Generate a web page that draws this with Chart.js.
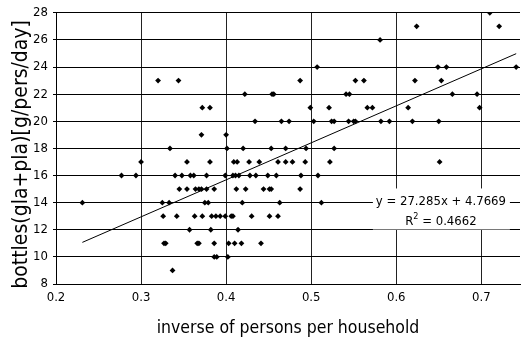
<!DOCTYPE html>
<html>
<head>
<meta charset="utf-8">
<script src="https://cdn.jsdelivr.net/npm/chart.js@4.4.1/dist/chart.umd.min.js"></script>
<style>
    html, body { margin: 0; padding: 0; background: #fff; }
    #wrap { width: 524px; height: 339px; position: relative; }
</style>
</head>
<body>
<div id="wrap"><canvas id="scatter" width="524" height="339"></canvas></div>
<script>
(function () {
    'use strict';

    // inverse of persons per household (x), one entry per household group
    var inversePersons = [
        0.710,
        0.624, 0.721,
        0.581,
        0.507, 0.649, 0.659, 0.741,
        0.320, 0.344, 0.487, 0.552, 0.562, 0.622, 0.653,
        0.422, 0.454, 0.456, 0.541, 0.545, 0.666, 0.695,
        0.372, 0.381, 0.499, 0.521, 0.566, 0.572, 0.614, 0.698,
        0.434, 0.465, 0.474, 0.503, 0.524, 0.527, 0.544, 0.550, 0.552, 0.582, 0.592, 0.619, 0.650,
        0.371, 0.400,
        0.334, 0.401, 0.420, 0.453, 0.470, 0.494, 0.527,
        0.300, 0.354, 0.381, 0.409, 0.413, 0.427, 0.439, 0.461, 0.470, 0.478, 0.493, 0.522, 0.651,
        0.277, 0.294, 0.340, 0.348, 0.358, 0.362, 0.377, 0.399, 0.408, 0.411, 0.415, 0.428, 0.435, 0.449, 0.459, 0.488, 0.508,
        0.345, 0.354, 0.364, 0.368, 0.371, 0.377, 0.386, 0.412, 0.423, 0.444, 0.451, 0.453, 0.487,
        0.231, 0.325, 0.333, 0.375, 0.379, 0.419, 0.463, 0.512,
        0.326, 0.342, 0.363, 0.372, 0.383, 0.388, 0.393, 0.399, 0.406, 0.408, 0.430, 0.451, 0.461,
        0.357, 0.382, 0.414,
        0.327, 0.329, 0.366, 0.368, 0.386, 0.403, 0.410, 0.418, 0.441,
        0.386, 0.389, 0.402,
        0.337
    ];

    // bottles (gla+pla) in g/pers/day, same order as above
    var bottlesPerDay = [
        28,
        27, 27,
        26,
        24, 24, 24, 24,
        23, 23, 23, 23, 23, 23, 23,
        22, 22, 22, 22, 22, 22, 22,
        21, 21, 21, 21, 21, 21, 21, 21,
        20, 20, 20, 20, 20, 20, 20, 20, 20, 20, 20, 20, 20,
        19, 19,
        18, 18, 18, 18, 18, 18, 18,
        17, 17, 17, 17, 17, 17, 17, 17, 17, 17, 17, 17, 17,
        16, 16, 16, 16, 16, 16, 16, 16, 16, 16, 16, 16, 16, 16, 16, 16, 16,
        15, 15, 15, 15, 15, 15, 15, 15, 15, 15, 15, 15, 15,
        14, 14, 14, 14, 14, 14, 14, 14,
        13, 13, 13, 13, 13, 13, 13, 13, 13, 13, 13, 13, 13,
        12, 12, 12,
        11, 11, 11, 11, 11, 11, 11, 11, 11,
        10, 10, 10,
        9
    ];

    // linear trendline as printed on the chart
    var trendSlope = 27.285;
    var trendIntercept = 4.7669;
    var trendLabel = ['y = 27.285x + 4.7669', '0.4662'];

    var xTitle = 'inverse of persons per household';
    var yTitle = 'bottles(gla+pla)[g/pers/day]';

    var FONT = '"DejaVu Sans Condensed", "DejaVu Sans", sans-serif';

    var points = [];
    for (var i = 0; i < inversePersons.length; i++) {
        points.push({ x: inversePersons[i], y: bottlesPerDay[i] });
    }

    var xMin = Math.min.apply(null, inversePersons);
    var xMax = Math.max.apply(null, inversePersons);
    var trendPoints = [
        { x: xMin, y: trendSlope * xMin + trendIntercept },
        { x: xMax, y: trendSlope * xMax + trendIntercept }
    ];

    // white box with the regression equation, anchored in data space
    var equationBox = {
        id: 'equationBox',
        afterDatasetsDraw: function (chart) {
            var xs = chart.scales.x;
            var ys = chart.scales.y;
            var ctx = chart.ctx;
            var cx = xs.getPixelForValue(0.6525);
            var cy = ys.getPixelForValue(13.57);
            ctx.save();
            ctx.fillStyle = '#fff';
            ctx.fillRect(cx - 68, cy - 20, 137, 41);
            ctx.fillStyle = '#000';
            ctx.font = '13px ' + FONT;
            ctx.textAlign = 'center';
            ctx.textBaseline = 'middle';
            ctx.fillText(trendLabel[0], cx, cy - 7);
            // R² line with a raised 2
            var rest = ' = ' + trendLabel[1];
            var wR = ctx.measureText('R').width;
            ctx.font = '9px ' + FONT;
            var w2 = ctx.measureText('2').width;
            ctx.font = '13px ' + FONT;
            var wRest = ctx.measureText(rest).width;
            var x0 = cx - (wR + w2 + wRest) / 2;
            ctx.textAlign = 'left';
            ctx.fillText('R', x0, cy + 13);
            ctx.font = '9px ' + FONT;
            ctx.fillText('2', x0 + wR, cy + 8);
            ctx.font = '13px ' + FONT;
            ctx.fillText(rest, x0 + wR + w2, cy + 13);
            ctx.restore();
        }
    };

    // y title drawn by hand: it sits a little below the plot's centre
    var yAxisTitle = {
        id: 'yAxisTitle',
        afterDraw: function (chart) {
            var area = chart.chartArea;
            var ctx = chart.ctx;
            ctx.save();
            ctx.translate(22, (area.top + area.bottom) / 2 + 6);
            ctx.rotate(-Math.PI / 2);
            ctx.fillStyle = '#000';
            ctx.font = '21px ' + FONT;
            ctx.textAlign = 'center';
            ctx.textBaseline = 'middle';
            ctx.fillText(yTitle, 0, 0);
            ctx.restore();
        }
    };

    var canvas = document.getElementById('scatter');
    new Chart(canvas.getContext('2d'), {
        type: 'scatter',
        data: {
            datasets: [{
                label: 'households',
                data: points,
                pointStyle: 'rectRot',
                pointRadius: 2.9,
                backgroundColor: '#000',
                borderColor: '#000',
                borderWidth: 0
            }, {
                type: 'line',
                label: 'trend',
                data: trendPoints,
                borderColor: '#000',
                borderWidth: 1,
                pointRadius: 0,
                fill: false
            }]
        },
        options: {
            responsive: false,
            devicePixelRatio: 1,
            animation: false,
            layout: { padding: { left: 0, top: 12, right: 0, bottom: 0 } },
            plugins: {
                legend: { display: false },
                tooltip: { enabled: false }
            },
            scales: {
                x: {
                    type: 'linear',
                    min: 0.2,
                    max: 0.7455,
                    afterFit: function (scale) { scale.height = 55; },
                    ticks: {
                        stepSize: 0.1,
                        includeBounds: false,
                        padding: 6,
                        color: '#000',
                        font: { family: FONT, size: 13 },
                        callback: function (v) { return v.toFixed(1); }
                    },
                    grid: { color: '#222', lineWidth: 1, tickLength: 0 },
                    border: { color: '#000', width: 1 },
                    title: {
                        display: true,
                        text: xTitle,
                        color: '#000',
                        font: { family: FONT, size: 17.5 },
                        padding: { top: 0, bottom: 0 }
                    }
                },
                y: {
                    min: 8,
                    max: 28,
                    afterFit: function (scale) { scale.width = 56; },
                    ticks: {
                        stepSize: 2,
                        padding: 5,
                        color: '#000',
                        font: { family: FONT, size: 13 }
                    },
                    grid: { color: '#000', lineWidth: 1, tickLength: 3 },
                    border: { color: '#000', width: 1 }
                }
            }
        },
        plugins: [equationBox, yAxisTitle]
    });
})();
</script>
</body>
</html>
